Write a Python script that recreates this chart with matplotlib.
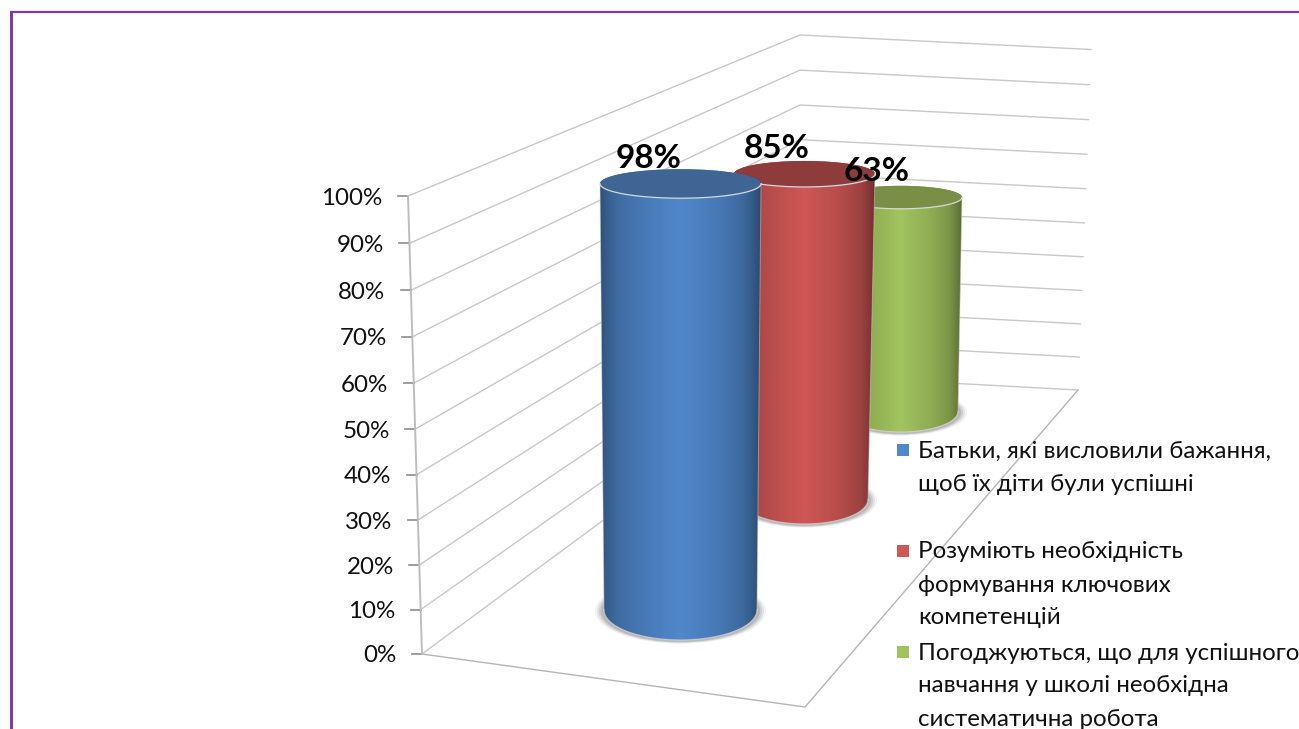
import numpy as np
import matplotlib
matplotlib.use("Agg")
import matplotlib.pyplot as plt
from matplotlib.patches import PathPatch, Ellipse, Rectangle
from matplotlib.path import Path
from matplotlib.colors import to_rgb

# ---------- data ----------
values = [98, 85, 63]
value_labels = ["98%", "85%", "63%"]
colors = ["#5088CC", "#CF5755", "#A2C45F"]
top_colors = ["#3E6593", "#8E3B3B", "#788F45"]
legend_labels = [
    "Батьки, які висловили бажання,\nщоб їх діти були успішні",
    "Розуміють необхідність\nформування ключових\nкомпетенцій",
    "Погоджуються, що для успішного\nнавчання у школі необхідна\nсистематична робота",
]
tick_values = [0, 10, 20, 30, 40, 50, 60, 70, 80, 90, 100]

# ---------- layout of the oblique projection (pixels) ----------
front_axis = {"x0": 422, "y0": 654, "x100": 408, "y100": 196}
corner = {"x0": 800, "y0": 375, "x100": 800, "y100": 35}
right_end = {"x0": 1078, "y0": 390, "x100": 1091, "y100": 49.5}
floor_front_right = (805, 707)
persp_k = -0.036
# per-series geometry: centre x, base y, px per percent, rx/ry at base and top (nearest first)
cyl_cx = [680.5, 804.5, 900.5]
cyl_base = [610, 499.5, 411.5]
cyl_unit = [4.35, 3.83, 3.40]
cyl_rb = [(76.5, 30), (63.5, 24.5), (57.5, 20.5)]
cyl_rt = [(80.5, 14.5), (70.5, 13), (61.5, 11.5)]
label_xy = [(649, 158), (777, 148), (877, 171)]
legend_x_box, legend_x_text = 903.5, 918
legend_y = [450, 551, 652]
legend_pitch = 33

plt.rcParams["font.family"] = ["Lato", "DejaVu Sans"]
fig = plt.figure(figsize=(12.99, 7.29), dpi=100, facecolor="white")
ax = fig.add_axes([0, 0, 1, 1])
ax.set_xlim(0, 1299)
ax.set_ylim(729, 0)
ax.axis("off")


def lerp(d, v):
    t = v / 100.0
    t = t * (1 + persp_k) / (1 + persp_k * t)
    return d["x0"] + (d["x100"] - d["x0"]) * t, d["y0"] + (d["y100"] - d["y0"]) * t


# page border
ax.plot([11, 11], [729, 11.5], color="#7A3DAB", lw=2.2, solid_capstyle="butt", zorder=1)
ax.plot([10, 1299], [11.5, 11.5], color="#7A3DAB", lw=1.6, solid_capstyle="butt", zorder=1)

# walls + gridlines
grid_c = "#C8C8C8"
for v in tick_values:
    a = lerp(front_axis, v)
    c = lerp(corner, v)
    r = lerp(right_end, v)
    ax.plot([a[0], c[0], r[0]], [a[1], c[1], r[1]], color=grid_c, lw=1.0, zorder=2,
            solid_joinstyle="miter")
    ax.plot([a[0] - 10, a[0]], [a[1], a[1]], color="#8C8C8C", lw=1.2, zorder=3)
    ax.text(a[0] - 25.5, a[1] + 2, f"{v}%", ha="right", va="center", fontsize=17.4,
            color="#111111", zorder=6)
a0, a1 = lerp(front_axis, 0), lerp(front_axis, 100)
ax.plot([a0[0], a1[0]], [a0[1], a1[1]], color="#BDBDBD", lw=1.4, zorder=3)
# floor
r0 = lerp(right_end, 0)
ax.plot([a0[0], floor_front_right[0], r0[0]], [a0[1], floor_front_right[1], r0[1]],
        color="#B5B5B5", lw=1.0, zorder=2, solid_joinstyle="miter")

# horizontal shading of the cylinder side
shade_t = [0, .03, .10, .25, .50, .75, .90, .97, 1]
shade_f = [.58, .66, .78, .88, 1, .88, .76, .62, .54]
xs = np.linspace(0, 1, 256)
fac = np.interp(xs, shade_t, shade_f)


def cylinder(i, zorder):
    cx, by = cyl_cx[i], cyl_base[i]
    ty = by - values[i] * cyl_unit[i]
    rbx, rby = cyl_rb[i]
    rtx, rty = cyl_rt[i]
    # shadow at the base
    for grow, alpha in [(9, .07), (7, .10), (5, .14), (3, .18)]:
        ax.add_patch(Ellipse((cx, by + 1), 2 * (rbx + grow), 2 * (rby + grow * .3),
                             fc="#555555", ec="none", alpha=alpha, zorder=zorder))
    # side silhouette
    th = np.linspace(0, np.pi, 80)
    xb = cx + rbx * np.cos(th)
    yb = by + rby * np.sin(th)
    tht = np.linspace(np.pi, 2 * np.pi, 80)
    xt = cx + rtx * np.cos(tht)
    yt = ty + rty * np.sin(tht)
    verts = np.column_stack([np.r_[xb, xt], np.r_[yb, yt]])
    verts = np.vstack([verts, verts[0]])
    codes = [Path.MOVETO] + [Path.LINETO] * (len(verts) - 2) + [Path.CLOSEPOLY]
    patch = PathPatch(Path(verts, codes), fc="none", ec="none", zorder=zorder)
    ax.add_patch(patch)
    img = np.outer(fac, np.array(to_rgb(colors[i])))[None, :, :]
    im = ax.imshow(img, extent=[cx - rtx, cx + rtx, by + rby + 2, ty - rty - 2],
                   aspect="auto", zorder=zorder + .1, interpolation="bilinear")
    im.set_clip_path(patch)
    # base rim
    ax.plot(xb, yb, color="#D8D8D8", lw=.9, alpha=.7, zorder=zorder + .2)
    # side edges
    ax.plot([cx - rbx, cx - rtx], [by, ty], color="#D5D5D5", lw=.7, alpha=.5, zorder=zorder + .2)
    ax.plot([cx + rbx, cx + rtx], [by, ty], color="#D5D5D5", lw=.7, alpha=.5, zorder=zorder + .2)
    # top cap
    ax.add_patch(Ellipse((cx, ty), 2 * rtx, 2 * rty, fc=top_colors[i], ec="none", zorder=zorder + .3))
    tf = np.linspace(0, np.pi, 80)
    ax.plot(cx + rtx * np.cos(tf), ty + rty * np.sin(tf), color="#D6D9DC", lw=.9,
            zorder=zorder + .4)


for i, z in zip([2, 1, 0], [10, 11, 12]):
    cylinder(i, z)

# value labels
for (x, y), s in zip(label_xy, value_labels):
    ax.text(x, y, s, ha="center", va="center", fontsize=24, fontweight="bold",
            color="black", zorder=20)

# legend
for y, lab, col in zip(legend_y, legend_labels, colors):
    ax.add_patch(Rectangle((legend_x_box - 6, y - 6), 12, 12, fc=col, ec="none", zorder=21))
    for k, line in enumerate(lab.split("\n")):
        ax.text(legend_x_text, y + 1 + k * legend_pitch, line, ha="left", va="center",
                fontsize=17.4, color="#111111", zorder=21)

ax.set_xlim(0, 1299)
ax.set_ylim(729, 0)
fig.savefig("out.png", dpi=100, facecolor="white")
